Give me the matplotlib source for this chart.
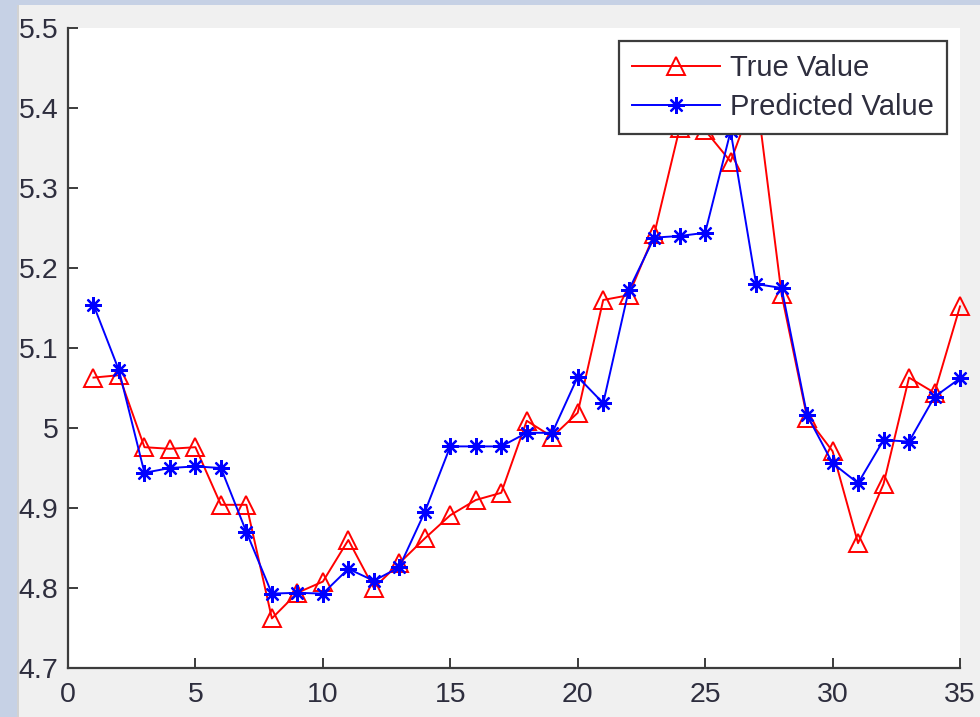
import matplotlib.pyplot as plt
from matplotlib.patches import Rectangle

# sample index 1..35
samples = list(range(1, 36))

true_value = [5.063, 5.066, 4.976, 4.974, 4.976, 4.904, 4.904, 4.762, 4.794, 4.808,
              4.860, 4.800, 4.831, 4.862, 4.891, 4.910, 4.919, 5.009, 4.989, 5.019,
              5.160, 5.166, 5.242, 5.375, 5.372, 5.333, 5.420, 5.167, 5.013, 4.971,
              4.856, 4.930, 5.063, 5.044, 5.152]

predicted_value = [5.154, 5.072, 4.944, 4.950, 4.952, 4.950, 4.870, 4.793, 4.794, 4.793,
                   4.824, 4.809, 4.826, 4.895, 4.977, 4.977, 4.977, 4.994, 4.994, 5.064,
                   5.031, 5.172, 5.238, 5.240, 5.244, 5.371, 5.180, 5.175, 5.016, 4.956,
                   4.931, 4.985, 4.983, 5.039, 5.062]

xticks = [0, 5, 10, 15, 20, 25, 30, 35]
yticks = [4.7, 4.8, 4.9, 5.0, 5.1, 5.2, 5.3, 5.4, 5.5]
ytick_labels = ['4.7', '4.8', '4.9', '5', '5.1', '5.2', '5.3', '5.4', '5.5']

plt.rcParams['font.family'] = ['Liberation Sans', 'DejaVu Sans']

fig = plt.figure(figsize=(9.8, 7.17), dpi=100, facecolor='#f0f0f0')
ax = fig.add_axes([68 / 980, 49 / 717, 892 / 980, 640 / 717])
ax.set_facecolor('white')

ax.plot(samples, true_value, color='red', lw=1.4, marker='^', ms=13,
        mfc='none', mec='red', mew=1.4, label='True Value', clip_on=False)
ax.plot(samples, predicted_value, color='blue', lw=1.4, marker=(8, 2, 0), ms=12,
        mec='blue', mew=1.6, label='Predicted Value', clip_on=False)

ax.set_xlim(0, 35)
ax.set_ylim(4.7, 5.5)
ax.set_xticks(xticks)
ax.set_yticks(yticks)
ax.set_yticklabels(ytick_labels)

for side in ['top', 'right']:
    ax.spines[side].set_visible(False)
for side in ['left', 'bottom']:
    ax.spines[side].set_color('#3c3c3c')
    ax.spines[side].set_linewidth(1.6)

ax.tick_params(direction='in', length=7, width=1.4, color='#3c3c3c',
               labelsize=20.5, labelcolor='#2e2e3e')
ax.tick_params(axis='y', pad=7)
ax.tick_params(axis='x', pad=10)

leg = ax.legend(loc='upper right', numpoints=1, fontsize=21, fancybox=False,
                framealpha=1, edgecolor='#3c3c3c', handlelength=3.0,
                handletextpad=0.35, labelspacing=0.38, borderpad=0.45,
                borderaxespad=0.45)
leg.get_frame().set_linewidth(1.6)
leg.set_zorder(5)
for t in leg.get_texts():
    t.set_color('#2e2e3e')

# window edge strips on the left and top
fig.patches.append(Rectangle((0, 0), 17 / 980, 1, transform=fig.transFigure,
                             facecolor='#c6d1e5', edgecolor='none', zorder=10))
fig.patches.append(Rectangle((0, 1 - 5 / 717), 1, 5 / 717, transform=fig.transFigure,
                             facecolor='#c6d1e5', edgecolor='none', zorder=10))
fig.patches.append(Rectangle((17 / 980, 0), 2 / 980, 1 - 5 / 717, transform=fig.transFigure,
                             facecolor='#d2d2d2', edgecolor='none', zorder=10))

fig.savefig('out.png', dpi=100, facecolor=fig.get_facecolor())
